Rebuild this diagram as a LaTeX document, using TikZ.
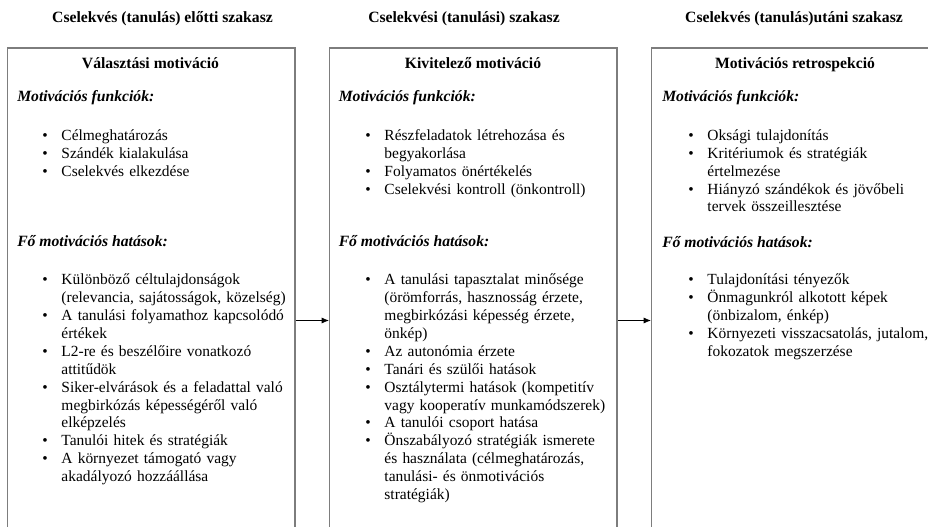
\documentclass[tikz,border=0pt]{standalone}
\usepackage{fontspec}
\setmainfont{Liberation Serif}
\usetikzlibrary{arrows.meta}
\definecolor{boxgray}{RGB}{125,125,125}
\newcommand\bodyfont{\fontsize{11.6}{13.4}\selectfont}
\newcommand\headfont{\fontsize{11.75}{13.4}\selectfont}
\newcommand\bitem[1]{\noindent\hangindent=14.4pt\hangafter=1\relax\makebox[14.4pt][l]{\textbullet}#1\par}
\tikzset{
  boxstyle/.style={draw=boxgray, line width=1pt, fill=white, minimum width=215.5pt,
    minimum height=390pt, anchor=north west, inner sep=0pt},
  phase/.style={font=\headfont\bfseries, anchor=base, inner sep=0pt},
  boxtitle/.style={font=\headfont\bfseries, anchor=base, inner sep=0pt},
  subhead/.style={font=\headfont\bfseries\itshape, anchor=base west, inner sep=0pt},
  lst/.style={font=\bodyfont, anchor=base west, inner sep=0pt, text width=250pt, align=left},
  arr/.style={-{Latex[length=5.5pt,width=4.5pt]}, line width=0.6pt, black}
}
\begin{document}
\begin{tikzpicture}[x=0.75pt, y=-0.75pt]
\useasboundingbox (0,0) rectangle (928,527);
\clip (0,0) rectangle (928,527);
% phase headings
\node[phase] (h1) at (162.5,22.5) {Cselekvés (tanulás) előtti szakasz};
\node[phase] (h2) at (464,22.5) {Cselekvési (tanulási) szakasz};
\node[phase] (h3) at (794,22.5) {Cselekvés (tanulás)utáni szakasz};
% boxes
\node[boxstyle] (boxA) at (7,47.5) {};
\node[boxstyle] (boxB) at (329,47.5) {};
\node[boxstyle] (boxC) at (651,47.5) {};
% arrows
\coordinate (ay) at (0,320.5);
\draw[arr] (boxA.east |- ay) -- (boxB.west |- ay);
\draw[arr] (boxB.east |- ay) -- (boxC.west |- ay);
% box A
\node[boxtitle] (tA) at (150.5,68.5) {Választási motiváció};
\node[subhead] (fA) at (17,102) {Motivációs funkciók:};
\node[lst] (lA1) at (42,140.5) {\bitem{Célmeghatározás}\bitem{Szándék kialakulása}\bitem{Cselekvés elkezdése}};
\node[subhead] (hA) at (17,246.5) {Fő motivációs hatások:};
\node[lst] (lA2) at (42,285) {%
\bitem{Különböző céltulajdonságok\newline (relevancia, sajátosságok, közelség)}%
\bitem{A tanulási folyamathoz kapcsolódó\newline értékek}%
\bitem{L2-re és beszélőire vonatkozó\newline attitűdök}%
\bitem{Siker-elvárások és a feladattal való\newline megbirkózás képességéről való\newline elképzelés}%
\bitem{Tanulói hitek és stratégiák}%
\bitem{A környezet támogató vagy\newline akadályozó hozzáállása}};
% box B
\node[boxtitle] (tB) at (473,68.5) {Kivitelező motiváció};
\node[subhead] (fB) at (338.5,102) {Motivációs funkciók:};
\node[lst] (lB1) at (365,140.5) {%
\bitem{Részfeladatok létrehozása és\newline begyakorlása}%
\bitem{Folyamatos önértékelés}%
\bitem{Cselekvési kontroll (önkontroll)}};
\node[subhead] (hB) at (338.5,246.5) {Fő motivációs hatások:};
\node[lst] (lB2) at (365,285) {%
\bitem{A tanulási tapasztalat minősége\newline (örömforrás, hasznosság érzete,\newline megbirkózási képesség érzete,\newline önkép)}%
\bitem{Az autonómia érzete}%
\bitem{Tanári és szülői hatások}%
\bitem{Osztálytermi hatások (kompetitív\newline vagy kooperatív munkamódszerek)}%
\bitem{A tanulói csoport hatása}%
\bitem{Önszabályozó stratégiák ismerete\newline és használata (célmeghatározás,\newline tanulási- és önmotivációs\newline stratégiák)}};
% box C
\node[boxtitle] (tC) at (795,68.5) {Motivációs retrospekció};
\node[subhead] (fC) at (662,102) {Motivációs funkciók:};
\node[lst] (lC1) at (688,140.5) {%
\bitem{Oksági tulajdonítás}%
\bitem{Kritériumok és stratégiák\newline értelmezése}%
\bitem{Hiányzó szándékok és jövőbeli\newline tervek összeillesztése}};
\node[subhead] (hC) at (662,247.5) {Fő motivációs hatások:};
\node[lst] (lC2) at (688,285) {%
\bitem{Tulajdonítási tényezők}%
\bitem{Önmagunkról alkotott képek\newline (önbizalom, énkép)}%
\bitem{Környezeti visszacsatolás, jutalom,\newline fokozatok megszerzése}};
\end{tikzpicture}
\end{document}
